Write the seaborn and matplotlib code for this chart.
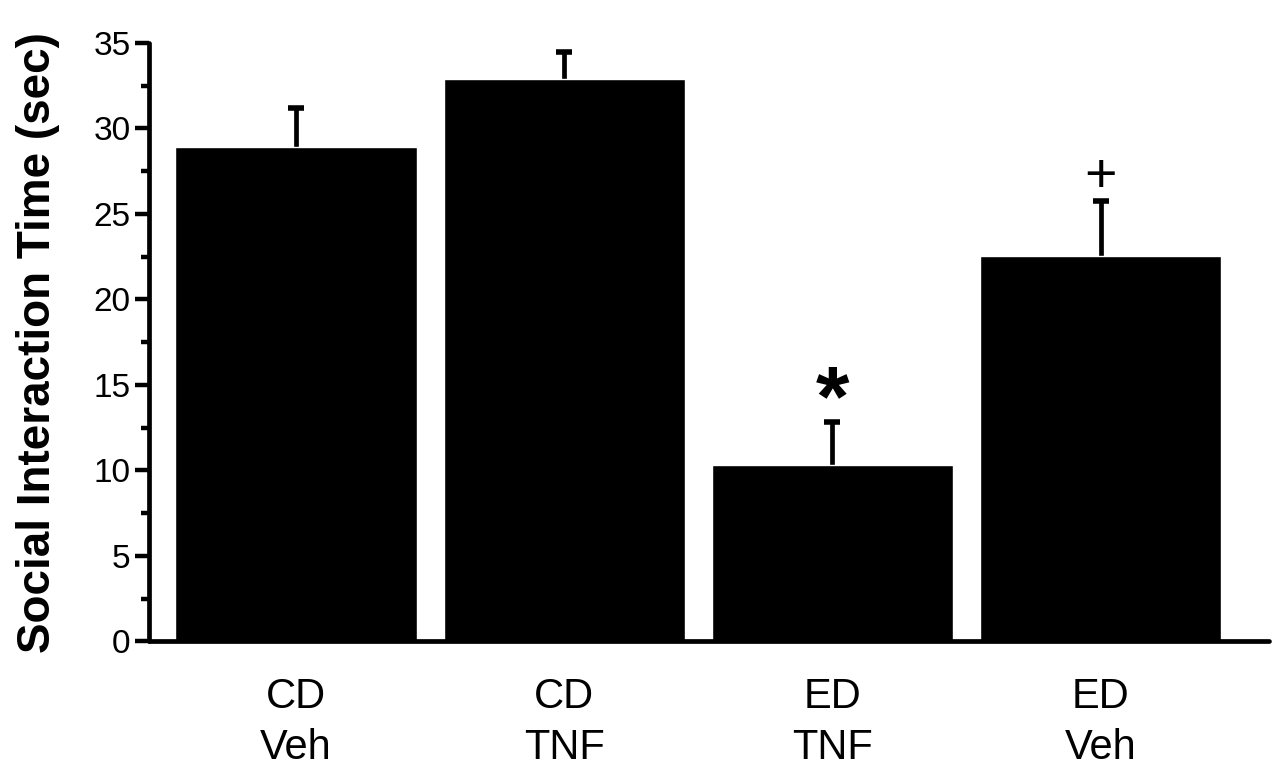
import matplotlib
matplotlib.use('Agg')
import matplotlib.pyplot as plt
import seaborn as sns
import pandas as pd
import numpy as np
from matplotlib.ticker import MultipleLocator

# Dados
groups = ['CD\nVeh', 'CD\nTNF', 'ED\nTNF', 'ED\nVeh']
means = [28.9, 32.9, 10.3, 22.55]
sem = [2.3, 1.6, 2.55, 3.2]
marks = ['', '', '*', '+']

df = pd.DataFrame({'group': groups, 'time': means})

sns.set_style('ticks', {'axes.edgecolor': 'black', 'text.color': 'black',
                        'xtick.color': 'black', 'ytick.color': 'black',
                        'axes.labelcolor': 'black'})
plt.rcParams['font.family'] = ['Liberation Sans', 'DejaVu Sans']

fig = plt.figure(figsize=(12.81, 7.68), dpi=100)
ax = fig.add_axes([0.116, 0.165, 0.875, 0.779])

sns.barplot(data=df, x='group', y='time', color='black', width=0.9,
            saturation=1, errorbar=None, ax=ax)

# Barras de erro (apenas para cima)
eb = ax.errorbar(range(len(groups)), means, yerr=[[0] * len(sem), sem],
                 fmt='none', ecolor='black', elinewidth=3.4, capsize=6,
                 capthick=4, zorder=0.5)
# esconde o cap inferior (fica no topo da barra)
for cap in eb[1]:
    if np.allclose(cap.get_ydata(), means):
        cap.set_visible(False)
    else:
        cap.set_solid_capstyle('round')

# Marcas de significancia
estilo = {'*': dict(fontsize=62, fontweight='bold', off=1.1),
          '+': dict(fontsize=40, fontweight='normal', off=1.35)}
for i, (m, e, s) in enumerate(zip(means, sem, marks)):
    if s in estilo:
        st = estilo[s]
        ax.text(i, m + e + st['off'], s, ha='center', va='center',
                fontsize=st['fontsize'], fontweight=st['fontweight'],
                color='black')

ax.set_ylim(0, 35)
ax.set_xlim(-0.55, 3.63)
ax.yaxis.set_major_locator(MultipleLocator(5))
ax.yaxis.set_minor_locator(MultipleLocator(2.5))

for side in ['top', 'right']:
    ax.spines[side].set_visible(False)
for side in ['left', 'bottom']:
    ax.spines[side].set_linewidth(3.4)
    ax.spines[side].set_capstyle('round')

ax.tick_params(axis='y', which='major', length=10, width=3.2,
               labelsize=24, pad=3)
ax.tick_params(axis='y', which='minor', length=6, width=3.2)
ax.tick_params(axis='x', length=0, labelsize=30, pad=26)
for lbl in ax.get_xticklabels():
    lbl.set_linespacing(1.35)

ax.set_xlabel('')
ax.set_ylabel('Social Interaction Time (sec)', fontsize=33,
              fontweight='bold', labelpad=24)

fig.savefig('out.png', dpi=100)
